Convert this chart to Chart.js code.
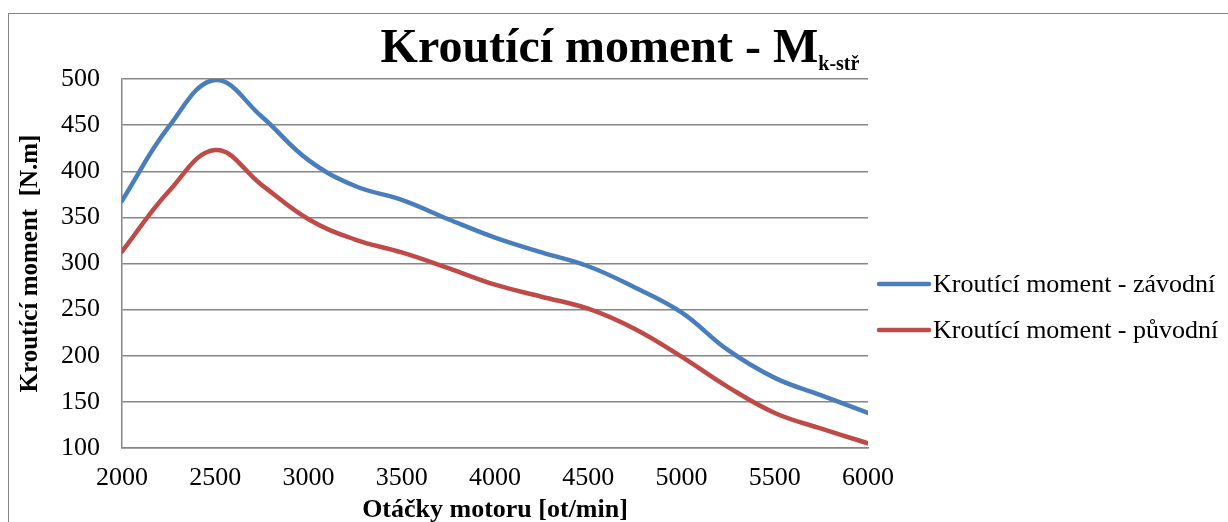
<!DOCTYPE html>
<html>
<head>
<meta charset="utf-8">
<script src="https://cdn.jsdelivr.net/npm/chart.js@4.4.0/dist/chart.umd.min.js"></script>
<style>
  html, body { margin: 0; padding: 0; background: #fff; overflow: hidden; }
  canvas { display: block; }
</style>
</head>
<body>
<canvas id="torqueChart" width="1228" height="545"></canvas>
<script>
  // otacky motoru [ot/min]
  const rpm = [2000, 2250, 2500, 2750, 3000, 3250, 3500, 3750, 4000, 4250, 4500, 4750, 5000, 5250, 5500, 5750, 6000];
  // kroutici moment [N.m]
  const torqueRace = [368, 448, 499, 459, 412, 384, 369, 348, 328, 312, 297, 274, 247, 206, 176, 157, 138];
  const torqueOrig = [313, 378, 423, 385, 348, 326, 312, 295, 277, 264, 251, 229, 199, 166, 138, 121, 105];

  const xTicks = [2000, 2500, 3000, 3500, 4000, 4500, 5000, 5500, 6000];
  const yTicks = [100, 150, 200, 250, 300, 350, 400, 450, 500];
  const seriesLabels = ['Kroutící moment - závodní', 'Kroutící moment - původní'];
  const titleMain = 'Kroutící moment - M';
  const titleSub = 'k-stř';
  const xTitle = 'Otáčky motoru [ot/min]';
  const yTitle = 'Kroutící moment  [N.m]';

  const serif = '"Liberation Serif", "Times New Roman", serif';
  const gridColor = '#868686';

  // frame, title with subscript and the legend on the right
  const decor = {
    id: 'decor',
    beforeDraw(chart) {
      const c = chart.ctx;
      c.save();
      c.fillStyle = '#fff';
      c.fillRect(0, 0, chart.width, chart.height);
      c.strokeStyle = gridColor;
      c.lineWidth = 1;
      c.strokeRect(8.5, 13.5, chart.width + 50, chart.height + 50);
      c.restore();
    },
    afterDraw(chart) {
      const c = chart.ctx;
      c.save();
      c.fillStyle = '#000';
      c.textBaseline = 'alphabetic';
      c.textAlign = 'left';
      c.font = 'bold 48px ' + serif;
      const w1 = c.measureText(titleMain).width;
      c.font = 'bold 20px ' + serif;
      const w2 = c.measureText(titleSub).width;
      const x0 = 620 - (w1 + w2) / 2;
      c.font = 'bold 48px ' + serif;
      c.fillText(titleMain, x0, 62);
      c.font = 'bold 20px ' + serif;
      c.fillText(titleSub, x0 + w1, 70);

      chart.data.datasets.forEach((ds, i) => {
        const y = 284 + i * 46;
        c.strokeStyle = ds.borderColor;
        c.lineWidth = 4.5;
        c.lineCap = 'round';
        c.beginPath();
        c.moveTo(879, y);
        c.lineTo(929, y);
        c.stroke();
        c.font = '26px ' + serif;
        c.textBaseline = 'middle';
        c.fillText(ds.label, 933, y + 1);
      });
      c.restore();
    }
  };

  const ctx = document.getElementById('torqueChart').getContext('2d');
  const torqueChart = new Chart(ctx, {
    type: 'line',
    data: {
      datasets: [{
        label: seriesLabels[0],
        data: rpm.map((r, i) => ({ x: r, y: torqueRace[i] })),
        borderColor: '#4a7ebb',
        backgroundColor: '#4a7ebb',
        borderWidth: 4.5,
        borderCapStyle: 'round',
        pointRadius: 0,
        tension: 0.4
      }, {
        label: seriesLabels[1],
        data: rpm.map((r, i) => ({ x: r, y: torqueOrig[i] })),
        borderColor: '#be4b48',
        backgroundColor: '#be4b48',
        borderWidth: 4.5,
        borderCapStyle: 'round',
        pointRadius: 0,
        tension: 0.4
      }]
    },
    options: {
      responsive: false,
      animation: false,
      layout: { padding: { top: 79, left: 16, right: 360, bottom: 0 } },
      plugins: {
        legend: { display: false },
        title: { display: false },
        tooltip: { enabled: false }
      },
      scales: {
        x: {
          type: 'linear',
          min: 2000,
          max: 6000,
          afterBuildTicks: s => { s.ticks = xTicks.map(v => ({ value: v })); },
          afterFit: s => { s.height = 97; },
          grid: { display: false, drawTicks: false },
          border: { display: true, color: gridColor, width: 1.5 },
          ticks: {
            color: '#000',
            font: { family: serif, size: 26 },
            padding: 15,
            maxRotation: 0,
            callback: v => String(v)
          },
          title: {
            display: true,
            text: xTitle,
            color: '#000',
            font: { family: serif, size: 26, weight: 'bold' },
            padding: { top: 0, bottom: 19 }
          }
        },
        y: {
          min: 100,
          max: 500,
          afterBuildTicks: s => { s.ticks = yTicks.map(v => ({ value: v })); },
          afterFit: s => { s.width = 106; },
          grid: { color: gridColor, lineWidth: 1.5, drawTicks: false },
          border: { display: true, color: gridColor, width: 1.5 },
          ticks: {
            color: '#000',
            font: { family: serif, size: 26 },
            padding: 22,
            callback: v => String(v)
          },
          title: {
            display: true,
            text: yTitle,
            color: '#000',
            font: { family: serif, size: 25, weight: 'bold' },
            padding: { top: 0, bottom: 0 }
          }
        }
      }
    },
    plugins: [decor]
  });
</script>
</body>
</html>
